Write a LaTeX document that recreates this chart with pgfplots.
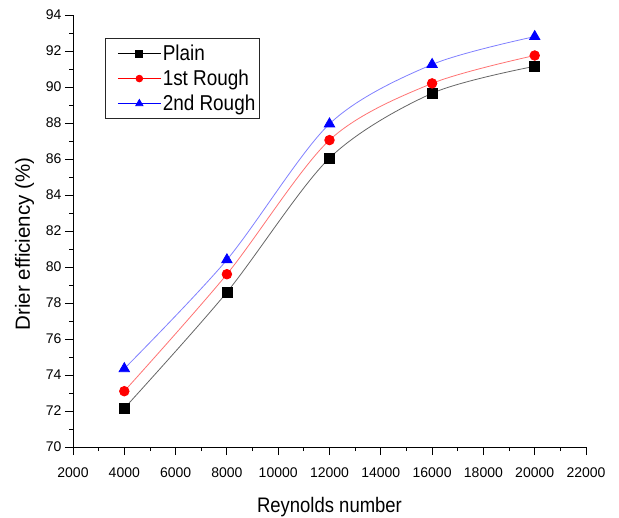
\documentclass[border=0pt]{standalone}
\usepackage{pgfplots}
\pgfplotsset{compat=1.18}
\usepackage{fontspec}
\setmainfont{Liberation Sans}
\newfontfamily\narrowsans[FakeStretch=0.88]{Liberation Sans}
\begin{document}
\begin{tikzpicture}
\begin{axis}[
  scale only axis,
  width=513pt, height=432pt,
  xmin=2000, xmax=22000, ymin=70, ymax=94,
  xtick={2000,4000,...,22000},
  ytick={70,72,...,94},
  minor x tick num=1, minor y tick num=1,
  axis x line*=bottom, axis y line*=left,
  axis line style={line width=0.9pt},
  tick style={line width=0.9pt, black},
  tick align=outside,
  major tick length=8pt, minor tick length=4pt,
  /pgf/number format/assume math mode=true,
  /pgf/number format/1000 sep={},
  scaled x ticks=false,
  tick label style={font=\fontsize{14}{16}\selectfont},
  xticklabel style={yshift=-9pt},
  legend style={at={(rel axis cs:0,1)}, anchor=north west, xshift=32pt, yshift=-23pt,
    draw=black!85, line width=0.9pt,
    font=\narrowsans\fontsize{21.5}{24}\selectfont, inner xsep=3pt, inner ysep=5pt,
    nodes={inner sep=1.5pt}, row sep=5pt},
  legend cell align=left,
  legend image code/.code={
    \path (-9pt,0pt);
    \draw[mark repeat=2, mark phase=2, every mark/.append style={scale=0.7}]
      plot coordinates {(0pt,0pt) (21.5pt,0pt) (43pt,0pt)};
  },
]
\addplot[smooth, gray!80!black, line width=0.8pt, mark=square*, mark size=5pt, mark options={fill=black, draw=black},
  legend image post style={black}]
  coordinates {(4000,72.15) (8000,78.6) (12000,86.05) (16000,89.65) (20000,91.15)};
\addlegendentry{Plain}
\addplot[smooth, red!55, line width=0.8pt, mark=*, mark size=4.8pt, mark options={fill=red, draw=red},
  legend image post style={red}]
  coordinates {(4000,73.1) (8000,79.6) (12000,87.05) (16000,90.2) (20000,91.75)};
\addlegendentry{1st Rough}
\addplot[smooth, blue!50, line width=0.8pt, mark=triangle*, mark size=6pt, mark options={fill=blue, draw=blue},
  legend image post style={blue}]
  coordinates {(4000,74.35) (8000,80.4) (12000,87.95) (16000,91.25) (20000,92.8)};
\addlegendentry{2nd Rough}
\coordinate (SW) at (rel axis cs:0,0);
\coordinate (NE) at (rel axis cs:1,1);
\coordinate (W) at (rel axis cs:0,0.5);
\coordinate (S) at (rel axis cs:0.5,0);
\end{axis}
\node[anchor=base, font=\narrowsans\fontsize{21}{24}\selectfont] at ([yshift=-65pt]S) {Reynolds number};
\node[rotate=90, anchor=base, font=\fontsize{20.5}{24}\selectfont] at ([xshift=-43pt,yshift=-13pt]W) {Drier efficiency (\%)};
\pgfresetboundingbox
\path[use as bounding box] ([xshift=-73pt,yshift=-70pt]SW) rectangle ([xshift=33pt,yshift=15pt]NE);
\end{tikzpicture}
\end{document}
